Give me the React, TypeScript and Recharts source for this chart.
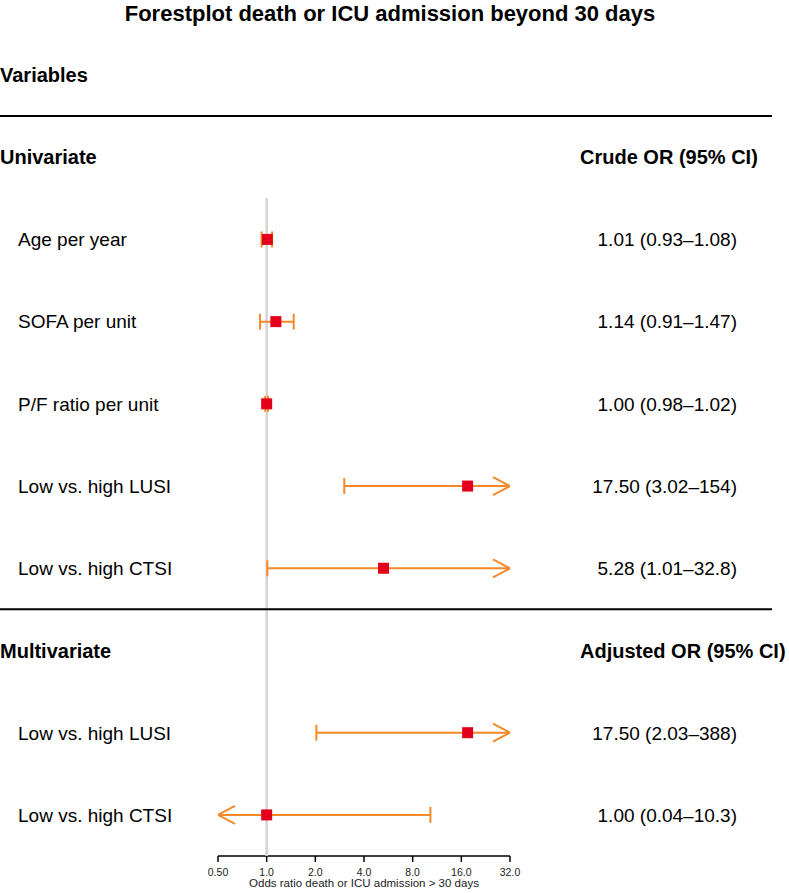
import React from 'react';
import { ScatterChart, Scatter, XAxis, YAxis, Label } from 'recharts';

const chartTitle = 'Forestplot death or ICU admission beyond 30 days';
const axisTitle = 'Odds ratio death or ICU admission > 30 days';
const columnHeader = 'Variables';

const groups = ['Univariate', 'Multivariate'];
const groupEstimateHeaders = ['Crude OR (95% CI)', 'Adjusted OR (95% CI)'];

const variables = [
  'Age per year',
  'SOFA per unit',
  'P/F ratio per unit',
  'Low vs. high LUSI',
  'Low vs. high CTSI',
  'Low vs. high LUSI',
  'Low vs. high CTSI',
];
const variableGroup = [0, 0, 0, 0, 0, 1, 1];
const oddsRatios = [1.01, 1.14, 1.0, 17.5, 5.28, 17.5, 1.0];
const ciLower = [0.93, 0.91, 0.98, 3.02, 1.01, 2.03, 0.04];
const ciUpper = [1.08, 1.47, 1.02, 154, 32.8, 388, 10.3];
const ciLabels = [
  '1.01 (0.93–1.08)',
  '1.14 (0.91–1.47)',
  '1.00 (0.98–1.02)',
  '17.50 (3.02–154)',
  '5.28 (1.01–32.8)',
  '17.50 (2.03–388)',
  '1.00 (0.04–10.3)',
];

const orTicks = [0.5, 1, 2, 4, 8, 16, 32];
const orTickLabels = ['0.50', '1.0', '2.0', '4.0', '8.0', '16.0', '32.0'];

const ORANGE = '#f5892a';
const RED = '#e3001b';

// odds ratios are drawn on a log2 axis
const lg = (v: number) => Math.log2(v);
const xMin = lg(orTicks[0]);
const xMax = lg(orTicks[orTicks.length - 1]);

// table rows: one slot per half row
type Row = { slot: number; kind: 'head' | 'rule' | 'group' | 'item'; left?: string; right?: string; idx?: number };
const rows: Row[] = [
  { slot: 0, kind: 'head', left: columnHeader },
  { slot: 1, kind: 'rule' },
];
let slot = 2;
groups.forEach((g, gi) => {
  if (gi > 0) {
    rows.push({ slot, kind: 'rule' });
    slot += 1;
  }
  rows.push({ slot, kind: 'group', left: g, right: groupEstimateHeaders[gi] });
  variables.forEach((v, i) => {
    if (variableGroup[i] !== gi) return;
    slot += 2;
    rows.push({ slot, kind: 'item', left: v, right: ciLabels[i], idx: i });
  });
  slot += 1;
});
const lastSlot = slot;
const items = rows.filter((r) => r.kind === 'item');

const pointData = items.map((r) => ({ x: lg(oddsRatios[r.idx!]), y: r.slot }));
const ciData = items.map((r) => {
  const i = r.idx!;
  const lo = lg(ciLower[i]);
  const hi = lg(ciUpper[i]);
  return [
    { x: Math.max(lo, xMin), y: r.slot, end: lo < xMin ? 'left' : 'cap' },
    { x: Math.min(hi, xMax), y: r.slot, end: hi > xMax ? 'right' : 'cap' },
  ];
});
const refData = [
  { x: lg(1), y: items[0].slot - 1 },
  { x: lg(1), y: lastSlot },
];

const CiEnd = (p: any) => {
  const { cx, cy, payload } = p;
  if (payload.end === 'cap') {
    return <line x1={cx} x2={cx} y1={cy - 8} y2={cy + 8} stroke={ORANGE} strokeWidth={2} />;
  }
  const d = payload.end === 'right' ? -1 : 1;
  return (
    <polyline
      points={`${cx + d * 17},${cy - 9} ${cx},${cy} ${cx + d * 17},${cy + 9}`}
      fill="none"
      stroke={ORANGE}
      strokeWidth={2}
    />
  );
};

const Square = (p: any) => <rect x={p.cx - 5.5} y={p.cy - 5.5} width={11} height={11} fill={RED} />;

const RowTick = (p: any) => {
  const row = rows.find((r) => r.slot === p.payload.value);
  if (!row) return <g />;
  if (row.kind === 'rule') {
    return <line x1={0} x2={772} y1={p.y} y2={p.y} stroke="#000" strokeWidth={2} />;
  }
  const bold = row.kind !== 'item';
  const fs = bold ? 20 : 19;
  return (
    <g>
      <text x={row.kind === 'item' ? 18 : 0} y={p.y} dy="0.36em" fontSize={fs} fontWeight={bold ? 700 : 400} fill="#000" textAnchor="start">
        {row.left}
      </text>
      {row.right && (
        <text
          x={row.kind === 'item' ? 737 : 580}
          y={p.y}
          dy="0.36em"
          fontSize={fs}
          fontWeight={bold ? 700 : 400}
          fill="#000"
          textAnchor={row.kind === 'item' ? 'end' : 'start'}
        >
          {row.right}
        </text>
      )}
    </g>
  );
};

export default function App() {
  return (
    <div style={{ position: 'relative', width: 789, height: 893, fontFamily: '"Liberation Sans", Arial, Helvetica, sans-serif', background: '#fff' }}>
      <style>{'body{margin:0}'}</style>
      <div style={{ position: 'absolute', top: 3, left: 0, width: 780, textAlign: 'center', fontSize: 22, lineHeight: '22px', fontWeight: 700 }}>
        {chartTitle}
      </div>
      <ScatterChart width={789} height={893} margin={{ top: 75, right: 279, bottom: 0, left: 0 }}>
        <XAxis
          type="number"
          dataKey="x"
          domain={[xMin, xMax]}
          ticks={orTicks.map(lg)}
          tickFormatter={(v: number) => orTickLabels[orTicks.map(lg).indexOf(v)] ?? ''}
          allowDataOverflow
          height={37}
          axisLine={{ stroke: '#000', strokeWidth: 1.5 }}
          tickLine={{ stroke: '#000', strokeWidth: 1.5 }}
          tickSize={6}
          tickMargin={7}
          tick={{ fill: '#222', fontSize: 10.5 }}
          interval={0}
        >
          <Label value={axisTitle} position="insideBottom" offset={6} fontSize={11.5} fill="#222" />
        </XAxis>
        <YAxis
          type="number"
          dataKey="y"
          domain={[0, lastSlot]}
          reversed
          allowDataOverflow
          ticks={rows.map((r) => r.slot)}
          interval={0}
          axisLine={false}
          tickLine={false}
          width={218}
          tick={(p: any) => <RowTick {...p} />}
        />
        <Scatter
          data={refData}
          line={{ stroke: '#d4d4d4', strokeWidth: 2.5 }}
          shape={() => <g />}
          isAnimationActive={false}
        />
        {ciData.map((d, i) => (
          <Scatter
            key={i}
            data={d}
            line={{ stroke: ORANGE, strokeWidth: 2 }}
            shape={CiEnd}
            isAnimationActive={false}
          />
        ))}
        <Scatter data={pointData} shape={Square} isAnimationActive={false} />
      </ScatterChart>
    </div>
  );
}
